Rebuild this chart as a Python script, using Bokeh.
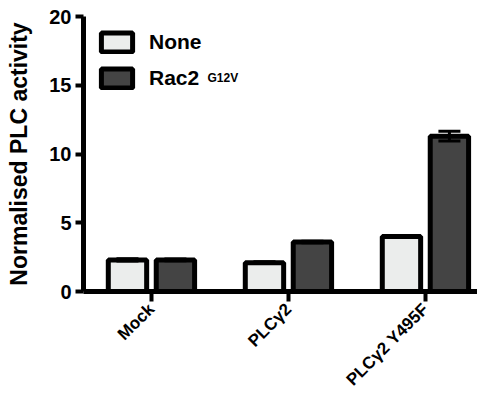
import math
from bokeh.plotting import figure
from bokeh.models import (ColumnDataSource, Range1d, FixedTicker, Whisker, TeeHead,
                          Legend, LegendItem, Label)
from bokeh.embed import file_html
from bokeh.resources import INLINE

categories = ["Mock", "PLCγ2", "PLCγ2 Y495F"]
none_values = [2.3, 2.1, 4.0]
none_errors = [0.08, 0.06, 0.06]
rac2_values = [2.3, 3.6, 11.3]
rac2_errors = [0.06, 0.05, 0.35]
series_labels = ["None", "Rac2"]
series_superscript = "G12V"
y_ticks = [0, 5, 10, 15, 20]

FONT = "Liberation Sans"
pos = list(range(1, len(categories) + 1))
offset = 0.175
bar_w = 0.28

src_none = ColumnDataSource(dict(
    x=[p - offset for p in pos], top=none_values,
    upper=[v + e for v, e in zip(none_values, none_errors)],
    lower=[v - e for v, e in zip(none_values, none_errors)]))
src_rac2 = ColumnDataSource(dict(
    x=[p + offset for p in pos], top=rac2_values,
    upper=[v + e for v, e in zip(rac2_values, rac2_errors)],
    lower=[v - e for v, e in zip(rac2_values, rac2_errors)]))

p = figure(width=477, height=399, output_backend="svg", toolbar_location=None,
           x_range=Range1d(0.504, 3.38), y_range=Range1d(0, 20),
           min_border_left=83, min_border_top=16, min_border_bottom=104, min_border_right=0)
p.outline_line_color = None
p.xgrid.visible = False
p.ygrid.visible = False

r_none = p.vbar(x="x", top="top", width=bar_w, bottom=0, source=src_none,
                fill_color="#ebedec", line_color="black", line_width=5)
r_rac2 = p.vbar(x="x", top="top", width=bar_w, bottom=0, source=src_rac2,
                fill_color="#444444", line_color="black", line_width=5)

for src in (src_none, src_rac2):
    w = Whisker(base="x", upper="upper", lower="lower", source=src, level="overlay",
                line_color="black", line_width=3,
                upper_head=TeeHead(size=22, line_width=3, line_color="black"),
                lower_head=TeeHead(size=22, line_width=3, line_color="black"))
    p.add_layout(w)

# axes
p.yaxis.ticker = FixedTicker(ticks=y_ticks)
p.yaxis.axis_label = "Normalised PLC activity"
p.yaxis.axis_label_text_font = FONT
p.yaxis.axis_label_text_font_style = "bold"
p.yaxis.axis_label_text_font_size = "23px"
p.yaxis.axis_label_standoff = 14
p.yaxis.major_label_text_font = FONT
p.yaxis.major_label_text_font_style = "bold"
p.yaxis.major_label_text_font_size = "20px"
p.yaxis.major_label_standoff = 4
p.yaxis.major_tick_in = 0
p.yaxis.major_tick_out = 8
p.yaxis.minor_tick_line_color = None

p.xaxis.ticker = FixedTicker(ticks=pos)
p.xaxis.major_label_overrides = {pp: c for pp, c in zip(pos, categories)}
p.xaxis.major_label_orientation = math.pi / 4
p.xaxis.major_label_text_font = FONT
p.xaxis.major_label_text_font_style = "bold"
p.xaxis.major_label_text_font_size = "17px"
p.xaxis.major_label_standoff = 5
p.xaxis.major_tick_in = 0
p.xaxis.major_tick_out = 10
p.xaxis.minor_tick_line_color = None

for ax in (p.xaxis, p.yaxis):
    ax.axis_line_width = 5
    ax.axis_line_color = "black"
    ax.major_tick_line_width = 4
    ax.major_tick_line_color = "black"
    ax.major_label_text_color = "black"
    ax.axis_label_text_color = "black"

legend = Legend(items=[LegendItem(label=series_labels[0], renderers=[r_none]),
                       LegendItem(label=series_labels[1], renderers=[r_rac2])],
                location="top_left", border_line_color=None, background_fill_alpha=0,
                label_text_font=FONT, label_text_font_style="bold",
                label_text_color="black",
                label_text_font_size="21px", glyph_width=39, glyph_height=24,
                spacing=12, padding=8, margin=14, label_standoff=13)
p.add_layout(legend)

sup = Label(x=124, y=15.5, x_units="screen", y_units="data", text=series_superscript,
            text_font=FONT, text_font_style="bold", text_font_size="12px",
            text_baseline="alphabetic", text_color="black")
p.add_layout(sup)

open("out.html", "w").write(file_html(p, INLINE))
